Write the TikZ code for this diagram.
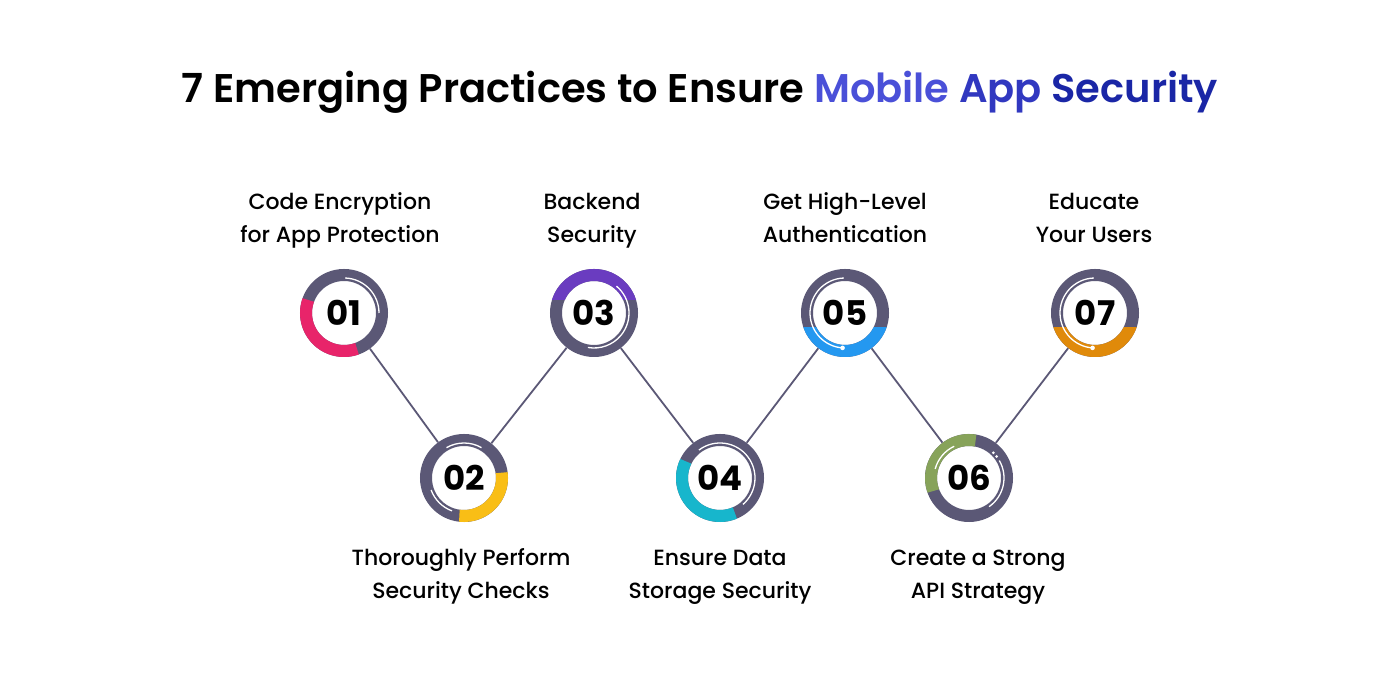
\documentclass[tikz,border=0pt]{standalone}
\usepackage{fontspec}
\setmainfont{Poppins}
\IfFontExistsTF{Poppins SemiBold}{\newfontfamily\titlefont{Poppins SemiBold}}{\newcommand\titlefont{\bfseries}}
\IfFontExistsTF{Poppins Medium}{\newfontfamily\labelfont{Poppins Medium}}{\newcommand\labelfont{\mdseries}}
\definecolor{ringgrey}{HTML}{5B5876}
\definecolor{pinkc}{HTML}{E8246A}
\definecolor{yellowc}{HTML}{F9BE16}
\definecolor{purplec}{HTML}{6A3CC0}
\definecolor{tealc}{HTML}{17B6CC}
\definecolor{bluec}{HTML}{2498F0}
\definecolor{greenc}{HTML}{87A35A}
\definecolor{orangec}{HTML}{E08A0A}
\definecolor{titleA}{HTML}{4A50D8}
\definecolor{titleB}{HTML}{3138C0}
\definecolor{titleC}{HTML}{1A26A6}

\begin{document}
\begin{tikzpicture}[x=1pt, y=1pt,
				stop/.style={circle, minimum size=88pt, inner sep=0pt, font=\bfseries\fontsize{34}{34}\selectfont},
				ring/.style={line width=12pt, draw=ringgrey},
				gleam/.style={draw=white, line width=1.3pt},
				link/.style={draw=ringgrey, line width=1.8pt},
				caption/.style={align=center, inner sep=0pt, anchor=base, font=\labelfont\fontsize{22}{33}\selectfont}
				]
				\useasboundingbox[fill=white] (0,0) rectangle (1400,700);
				\node[font=\titlefont\fontsize{40}{40}\selectfont, anchor=base] (title) at (700,597) {7 Emerging Practices to Ensure \textcolor{titleA}{Mobile} \textcolor{titleB}{App} \textcolor{titleC}{Security}};
				% steps
				\foreach \n/\x/\y in {1/344/387, 2/464/222, 3/594/387, 4/720/222, 5/845/387, 6/969/222, 7/1095/387}
					\node[stop] (c\n) at (\x,\y) {0\n};
				\foreach \a/\b in {1/2, 2/3, 3/4, 4/5, 5/6, 6/7}
					\draw[link] (c\a) -- (c\b);
				\foreach \n in {1,...,7}
					\draw[ring] (c\n) circle (38);
				% coloured parts
				\draw[ring, draw=pinkc] ([shift={(160:38)}]c1.center) arc (160:290:38);
				\draw[ring, draw=yellowc] ([shift={(-97:38)}]c2.center) arc (-97:8:38);
				\begin{scope}
					\clip (c3.center) ++(-50,13) rectangle ++(100,40);
					\draw[ring, draw=purplec] (c3) circle (38);
				\end{scope}
				\draw[ring, draw=tealc] ([shift={(154:38)}]c4.center) arc (154:293:38);
				\begin{scope}
					\clip (c5.center) ++(-50,-15) rectangle ++(100,-40);
					\draw[ring, draw=bluec] (c5) circle (38);
				\end{scope}
				\draw[ring, draw=greenc] ([shift={(80:38)}]c6.center) arc (80:200:38);
				\begin{scope}
					\clip (c7.center) ++(-50,-15) rectangle ++(100,-40);
					\draw[ring, draw=orangec] (c7) circle (38);
				\end{scope}
				% highlights
				\draw[gleam] ([shift={(0:35)}]c1.center) arc (0:88:35);
				\draw[gleam] ([shift={(60:35)}]c2.center) arc (60:120:35);
				\draw[gleam] ([shift={(200:35)}]c2.center) arc (200:250:35);
				\draw[gleam] ([shift={(50:35)}]c3.center) arc (50:-100:35);
				\draw[gleam] ([shift={(127:35)}]c4.center) arc (127:-49:35);
				\draw[gleam] ([shift={(92:35)}]c5.center) arc (92:266:35);
				\fill[white] ([shift={(266:35)}]c5.center) circle (2.3);
				\draw[gleam] ([shift={(115:35)}]c6.center) arc (115:165:35);
				\draw[gleam] ([shift={(-55:35)}]c6.center) arc (-55:30:35);
				\fill[white] ([shift={(38:35)}]c6.center) circle (1.5);
				\fill[white] ([shift={(46:35)}]c6.center) circle (1.5);
				\draw[gleam] ([shift={(92:35)}]c7.center) arc (92:266:35);
				\fill[white] ([shift={(266:35)}]c7.center) circle (2.3);
				% captions (base = second line)
				\node[caption] (t1) at (340,457) {Code Encryption\\for App Protection};
				\node[caption] (t3) at (592,457) {Backend\\Security};
				\node[caption] (t5) at (845,457) {Get High-Level\\Authentication};
				\node[caption] (t7) at (1094,457) {Educate\\Your Users};
				\node[caption] (t2) at (461,101) {Thoroughly Perform\\Security Checks};
				\node[caption] (t4) at (720,101) {Ensure Data\\Storage Security};
				\node[caption] (t6) at (978,101) {Create a Strong\\API Strategy};
\end{tikzpicture}
\end{document}
